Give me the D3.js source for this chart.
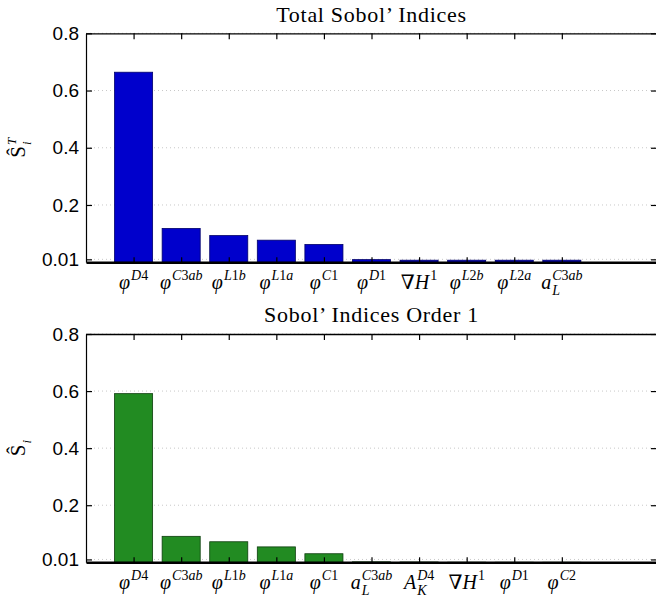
<!DOCTYPE html>
<html>
<head>
<meta charset="utf-8">
<script src="https://cdn.jsdelivr.net/npm/d3@7"></script>
<style>
  html, body { margin: 0; padding: 0; background: #fff; }
  svg { display: block; }
</style>
</head>
<body>
<svg id="chart" width="656" height="600"></svg>
<script>
// Sobol' sensitivity indices, ordered by importance.
// Label markup: base_sub^sup
const totalLabels = ["φ^D4", "φ^C3ab", "φ^L1b", "φ^L1a", "φ^C1", "φ^D1", "∇H^1", "φ^L2b", "φ^L2a", "a_L^C3ab"];
const totalValues = [0.664, 0.118, 0.093, 0.077, 0.062, 0.009, 0.007, 0.007, 0.007, 0.007];

const firstLabels = ["φ^D4", "φ^C3ab", "φ^L1b", "φ^L1a", "φ^C1", "a_L^C3ab", "A_K^D4", "∇H^1", "φ^D1", "φ^C2"];
const firstValues = [0.591, 0.091, 0.072, 0.054, 0.030, 0.0015, 0.001, 0.0003, 0.0002, 0.0001];

const yTicks = [0.01, 0.2, 0.4, 0.6, 0.8];
const yTickLabels = ["0.01", "0.2", "0.4", "0.6", "0.8"];

const svg = d3.select("#chart");
const mathFont = "'Liberation Serif', 'DejaVu Serif', serif";
const textFont = "'Liberation Sans', Arial, sans-serif";

const x = d3.scaleLinear().domain([0, 12]).range([86, 657]);

// Render a math-like label: letters italic, digits and operators upright.
function runs(sel, str, size) {
  const parts = str.match(/[A-Za-zφ]+|[^A-Za-zφ]+/g) || [];
  parts.forEach(p => {
    sel.append("tspan")
      .attr("font-style", /[A-Za-zφ]/.test(p) ? "italic" : "normal")
      .attr("font-size", size)
      .text(p);
  });
}

function mathLabel(g, markup, baseSize, subSize) {
  let base = markup, sup = null, sub = null;
  const supIdx = base.indexOf("^");
  if (supIdx >= 0) { sup = base.slice(supIdx + 1); base = base.slice(0, supIdx); }
  const subIdx = base.indexOf("_");
  if (subIdx >= 0) { sub = base.slice(subIdx + 1); base = base.slice(0, subIdx); }

  const inner = g.append("g");
  const t = inner.append("text").attr("font-family", mathFont).attr("fill", "#000");
  runs(t, base, baseSize);
  const w = t.node().getComputedTextLength();
  let ext = 0;
  if (sup) {
    const s = inner.append("text").attr("font-family", mathFont).attr("x", w + 1).attr("y", -baseSize * 0.45);
    runs(s, sup, subSize);
    ext = Math.max(ext, s.node().getComputedTextLength());
  }
  if (sub) {
    const s = inner.append("text").attr("font-family", mathFont).attr("x", w + 1).attr("y", baseSize * 0.3);
    runs(s, sub, subSize);
    ext = Math.max(ext, s.node().getComputedTextLength());
  }
  return { inner, width: w + (ext ? ext + 1 : 0) };
}

function panel(opts) {
  const { labels, values, y0, y1, title, titleY, yLabel, fill, stroke } = opts;
  const y = d3.scaleLinear().domain([0, 0.8]).range([y0, y1]);
  const left = x.range()[0], right = x.range()[1];
  const g = svg.append("g");

  // dotted grid
  g.append("g").selectAll("line").data(yTicks).join("line")
    .attr("x1", left).attr("x2", right)
    .attr("y1", d => y(d)).attr("y2", d => y(d))
    .attr("stroke", "#c8c8c8").attr("stroke-width", 1)
    .attr("stroke-dasharray", "1,3");

  // bars
  const bw = x(0.8) - x(0);
  g.append("g").selectAll("rect").data(values).join("rect")
    .attr("x", (d, i) => x(i + 1) - bw / 2)
    .attr("width", bw)
    .attr("y", d => y(d))
    .attr("height", d => y(0) - y(d))
    .attr("fill", fill)
    .attr("stroke", stroke)
    .attr("stroke-width", 0.8);

  // frame: left and top lines, right axis just outside view
  const yl = d3.axisLeft(y).tickValues(yTicks).tickFormat((d, i) => yTickLabels[i])
    .tickSizeInner(-6).tickSizeOuter(0).tickPadding(7);
  const ya = g.append("g").attr("transform", `translate(${left},0)`).call(yl);
  ya.select(".domain").attr("stroke", "#000").attr("stroke-width", 1.2);
  ya.selectAll(".tick line").attr("stroke", "#000").attr("stroke-width", 1.2);
  ya.selectAll(".tick text").attr("font-family", textFont).attr("font-size", 19).attr("fill", "#000");

  const yr = d3.axisRight(y).tickValues(yTicks).tickFormat("").tickSizeInner(-6).tickSizeOuter(0);
  const yra = g.append("g").attr("transform", `translate(${right},0)`).call(yr);
  yra.selectAll(".tick line").attr("stroke", "#000").attr("stroke-width", 1.2);
  yra.select(".domain").attr("stroke", "#000");

  const ticks = d3.range(1, labels.length + 1);
  const xt = d3.axisTop(x).tickValues(ticks).tickFormat("").tickSizeInner(-6).tickSizeOuter(0);
  const xta = g.append("g").attr("transform", `translate(0,${y1})`).call(xt);
  xta.select(".domain").attr("stroke", "#000").attr("stroke-width", 1.3);
  xta.selectAll(".tick line").attr("stroke", "#000").attr("stroke-width", 1.2);

  const xb = d3.axisBottom(x).tickValues(ticks).tickFormat("").tickSizeInner(-5).tickSizeOuter(0);
  const xba = g.append("g").attr("transform", `translate(0,${y0})`).call(xb);
  xba.select(".domain").attr("stroke", "#000").attr("stroke-width", 2.4);
  xba.selectAll(".tick line").attr("stroke", "#000").attr("stroke-width", 1.2);

  // category labels
  labels.forEach((lab, i) => {
    const lg = g.append("g");
    const { width } = mathLabel(lg, lab, 20, 14);
    lg.attr("transform", `translate(${x(i + 1) - width / 2},${y0 + 27})`);
  });

  // title
  g.append("text")
    .attr("x", (left + right) / 2).attr("y", titleY)
    .attr("text-anchor", "middle")
    .attr("font-family", mathFont).attr("font-size", 22)
    .attr("letter-spacing", 0.7).attr("fill", "#000")
    .text(title);

  // y axis label, rotated
  const lg = g.append("g");
  const { width } = mathLabel(lg, yLabel, 21, 13);
  lg.attr("transform", `translate(25,${(y0 + y1) / 2 + width / 2}) rotate(-90)`);
}

panel({
  labels: totalLabels, values: totalValues,
  y0: 262.2, y1: 33.3, title: "Total Sobol’ Indices", titleY: 22,
  yLabel: "Ŝ_i^T", fill: "#0000cc", stroke: "#00006a"
});

panel({
  labels: firstLabels, values: firstValues,
  y0: 562.3, y1: 334, title: "Sobol’ Indices Order 1", titleY: 322,
  yLabel: "Ŝ_i", fill: "#228b22", stroke: "#0d3d0d"
});
</script>
</body>
</html>
